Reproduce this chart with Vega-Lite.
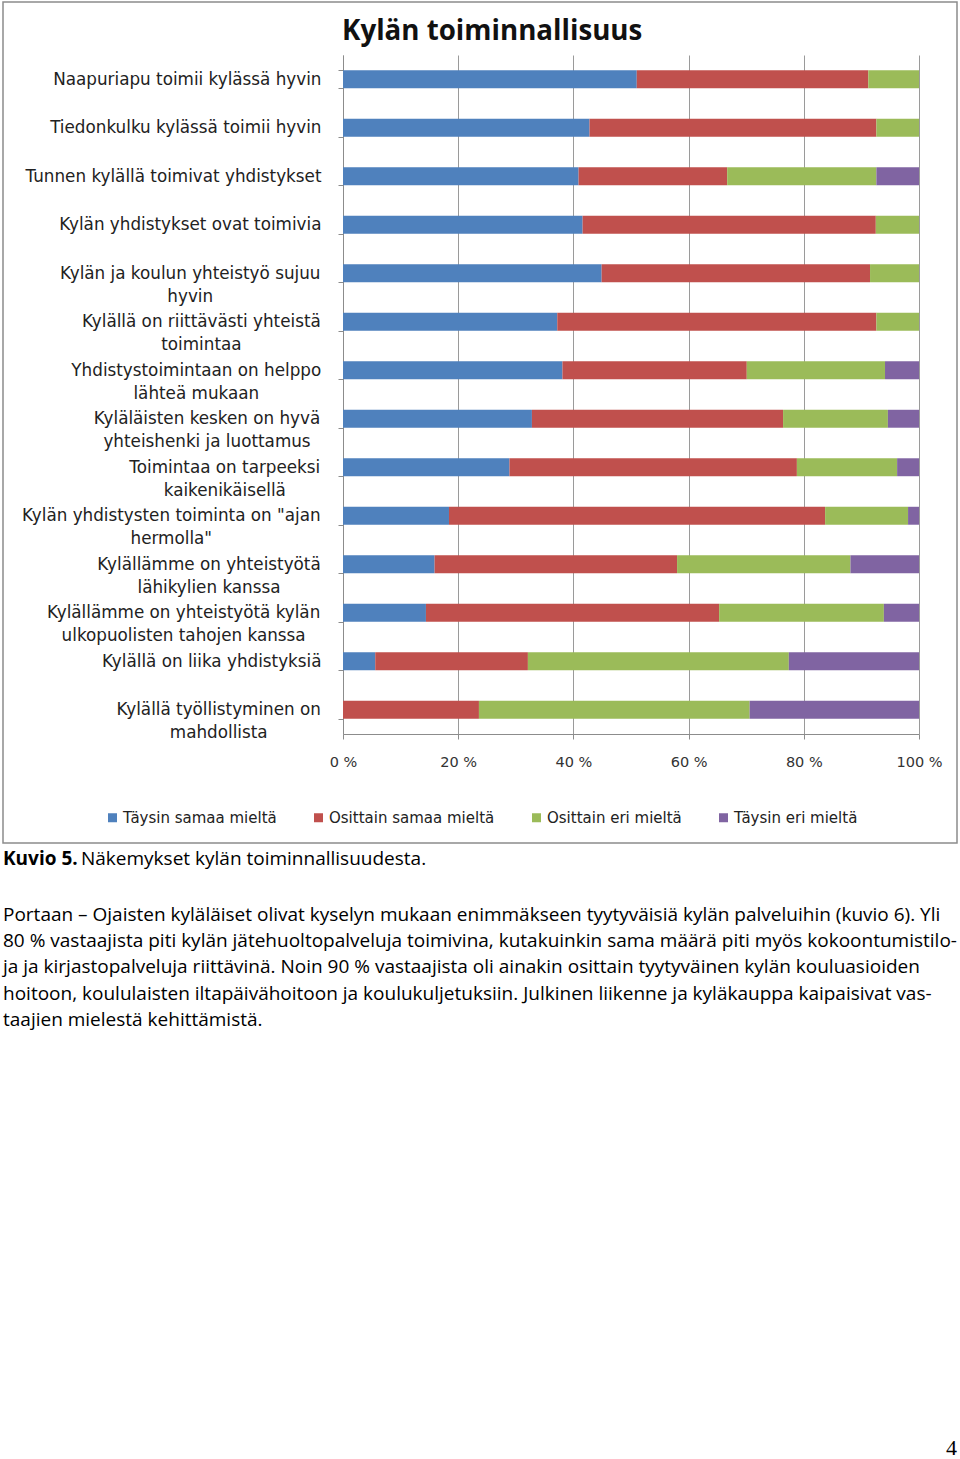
{
  "$schema": "https://vega.github.io/schema/vega-lite/v6.json",
  "width": 576,
  "height": 679,
  "autosize": {"type": "none"},
  "padding": {"left": 343, "top": 55, "right": 41, "bottom": 725},
  "background": "white",
  "config": {"view": {"stroke": null}},
  "layer": [
    {
      "data": {"values": [{"frame": "chart"}]},
      "mark": {"type": "rect", "fill": null, "stroke": "#8c8c8c", "strokeWidth": 1.5},
      "encoding": {"x": {"value": -340}, "x2": {"value": 614}, "y": {"value": -53}, "y2": {"value": 788}}
    },
    {
      "data": {"values": [
        {"item": "Naapuriapu toimii kylässä hyvin", "response": "Täysin samaa mieltä", "k": 1, "pct": 51.0},
        {"item": "Naapuriapu toimii kylässä hyvin", "response": "Osittain samaa mieltä", "k": 2, "pct": 40.2},
        {"item": "Naapuriapu toimii kylässä hyvin", "response": "Osittain eri mieltä", "k": 3, "pct": 8.8},
        {"item": "Naapuriapu toimii kylässä hyvin", "response": "Täysin eri mieltä", "k": 4, "pct": 0},
        {"item": "Tiedonkulku kylässä toimii hyvin", "response": "Täysin samaa mieltä", "k": 1, "pct": 42.8},
        {"item": "Tiedonkulku kylässä toimii hyvin", "response": "Osittain samaa mieltä", "k": 2, "pct": 49.8},
        {"item": "Tiedonkulku kylässä toimii hyvin", "response": "Osittain eri mieltä", "k": 3, "pct": 7.4},
        {"item": "Tiedonkulku kylässä toimii hyvin", "response": "Täysin eri mieltä", "k": 4, "pct": 0},
        {"item": "Tunnen kylällä toimivat yhdistykset", "response": "Täysin samaa mieltä", "k": 1, "pct": 40.9},
        {"item": "Tunnen kylällä toimivat yhdistykset", "response": "Osittain samaa mieltä", "k": 2, "pct": 25.8},
        {"item": "Tunnen kylällä toimivat yhdistykset", "response": "Osittain eri mieltä", "k": 3, "pct": 25.9},
        {"item": "Tunnen kylällä toimivat yhdistykset", "response": "Täysin eri mieltä", "k": 4, "pct": 7.4},
        {"item": "Kylän yhdistykset ovat toimivia", "response": "Täysin samaa mieltä", "k": 1, "pct": 41.6},
        {"item": "Kylän yhdistykset ovat toimivia", "response": "Osittain samaa mieltä", "k": 2, "pct": 50.9},
        {"item": "Kylän yhdistykset ovat toimivia", "response": "Osittain eri mieltä", "k": 3, "pct": 7.5},
        {"item": "Kylän yhdistykset ovat toimivia", "response": "Täysin eri mieltä", "k": 4, "pct": 0},
        {"item": "Kylän ja koulun yhteistyö sujuu|hyvin", "response": "Täysin samaa mieltä", "k": 1, "pct": 44.9},
        {"item": "Kylän ja koulun yhteistyö sujuu|hyvin", "response": "Osittain samaa mieltä", "k": 2, "pct": 46.6},
        {"item": "Kylän ja koulun yhteistyö sujuu|hyvin", "response": "Osittain eri mieltä", "k": 3, "pct": 8.5},
        {"item": "Kylän ja koulun yhteistyö sujuu|hyvin", "response": "Täysin eri mieltä", "k": 4, "pct": 0},
        {"item": "Kylällä on riittävästi yhteistä|toimintaa", "response": "Täysin samaa mieltä", "k": 1, "pct": 37.2},
        {"item": "Kylällä on riittävästi yhteistä|toimintaa", "response": "Osittain samaa mieltä", "k": 2, "pct": 55.4},
        {"item": "Kylällä on riittävästi yhteistä|toimintaa", "response": "Osittain eri mieltä", "k": 3, "pct": 7.4},
        {"item": "Kylällä on riittävästi yhteistä|toimintaa", "response": "Täysin eri mieltä", "k": 4, "pct": 0},
        {"item": "Yhdistystoimintaan on helppo|lähteä mukaan", "response": "Täysin samaa mieltä", "k": 1, "pct": 38.1},
        {"item": "Yhdistystoimintaan on helppo|lähteä mukaan", "response": "Osittain samaa mieltä", "k": 2, "pct": 32.0},
        {"item": "Yhdistystoimintaan on helppo|lähteä mukaan", "response": "Osittain eri mieltä", "k": 3, "pct": 24.0},
        {"item": "Yhdistystoimintaan on helppo|lähteä mukaan", "response": "Täysin eri mieltä", "k": 4, "pct": 5.9},
        {"item": "Kyläläisten kesken on hyvä|yhteishenki ja luottamus", "response": "Täysin samaa mieltä", "k": 1, "pct": 32.8},
        {"item": "Kyläläisten kesken on hyvä|yhteishenki ja luottamus", "response": "Osittain samaa mieltä", "k": 2, "pct": 43.6},
        {"item": "Kyläläisten kesken on hyvä|yhteishenki ja luottamus", "response": "Osittain eri mieltä", "k": 3, "pct": 18.2},
        {"item": "Kyläläisten kesken on hyvä|yhteishenki ja luottamus", "response": "Täysin eri mieltä", "k": 4, "pct": 5.4},
        {"item": "Toimintaa on tarpeeksi|kaikenikäisellä", "response": "Täysin samaa mieltä", "k": 1, "pct": 28.9},
        {"item": "Toimintaa on tarpeeksi|kaikenikäisellä", "response": "Osittain samaa mieltä", "k": 2, "pct": 49.9},
        {"item": "Toimintaa on tarpeeksi|kaikenikäisellä", "response": "Osittain eri mieltä", "k": 3, "pct": 17.4},
        {"item": "Toimintaa on tarpeeksi|kaikenikäisellä", "response": "Täysin eri mieltä", "k": 4, "pct": 3.8},
        {"item": "Kylän yhdistysten toiminta on \"ajan|hermolla\"", "response": "Täysin samaa mieltä", "k": 1, "pct": 18.4},
        {"item": "Kylän yhdistysten toiminta on \"ajan|hermolla\"", "response": "Osittain samaa mieltä", "k": 2, "pct": 65.3},
        {"item": "Kylän yhdistysten toiminta on \"ajan|hermolla\"", "response": "Osittain eri mieltä", "k": 3, "pct": 14.4},
        {"item": "Kylän yhdistysten toiminta on \"ajan|hermolla\"", "response": "Täysin eri mieltä", "k": 4, "pct": 1.9},
        {"item": "Kylällämme on yhteistyötä|lähikylien kanssa", "response": "Täysin samaa mieltä", "k": 1, "pct": 15.9},
        {"item": "Kylällämme on yhteistyötä|lähikylien kanssa", "response": "Osittain samaa mieltä", "k": 2, "pct": 42.1},
        {"item": "Kylällämme on yhteistyötä|lähikylien kanssa", "response": "Osittain eri mieltä", "k": 3, "pct": 30.1},
        {"item": "Kylällämme on yhteistyötä|lähikylien kanssa", "response": "Täysin eri mieltä", "k": 4, "pct": 11.9},
        {"item": "Kylällämme on yhteistyötä kylän|ulkopuolisten tahojen kanssa", "response": "Täysin samaa mieltä", "k": 1, "pct": 14.4},
        {"item": "Kylällämme on yhteistyötä kylän|ulkopuolisten tahojen kanssa", "response": "Osittain samaa mieltä", "k": 2, "pct": 50.9},
        {"item": "Kylällämme on yhteistyötä kylän|ulkopuolisten tahojen kanssa", "response": "Osittain eri mieltä", "k": 3, "pct": 28.6},
        {"item": "Kylällämme on yhteistyötä kylän|ulkopuolisten tahojen kanssa", "response": "Täysin eri mieltä", "k": 4, "pct": 6.1},
        {"item": "Kylällä on liika yhdistyksiä", "response": "Täysin samaa mieltä", "k": 1, "pct": 5.6},
        {"item": "Kylällä on liika yhdistyksiä", "response": "Osittain samaa mieltä", "k": 2, "pct": 26.5},
        {"item": "Kylällä on liika yhdistyksiä", "response": "Osittain eri mieltä", "k": 3, "pct": 45.3},
        {"item": "Kylällä on liika yhdistyksiä", "response": "Täysin eri mieltä", "k": 4, "pct": 22.6},
        {"item": "Kylällä työllistyminen on|mahdollista", "response": "Täysin samaa mieltä", "k": 1, "pct": 0},
        {"item": "Kylällä työllistyminen on|mahdollista", "response": "Osittain samaa mieltä", "k": 2, "pct": 23.6},
        {"item": "Kylällä työllistyminen on|mahdollista", "response": "Osittain eri mieltä", "k": 3, "pct": 47.0},
        {"item": "Kylällä työllistyminen on|mahdollista", "response": "Täysin eri mieltä", "k": 4, "pct": 29.4}
      ]},
      "mark": {"type": "bar"},
      "encoding": {
        "y": {
          "field": "item", "type": "nominal", "sort": null,
          "scale": {"paddingInner": 0.63, "paddingOuter": 0.315},
          "axis": {
            "title": null,
            "tickBand": "extent",
            "tickSize": 5, "tickColor": "#8c8c8c",
            "domainColor": "#8c8c8c",
            "labelFont": "DejaVu Sans", "labelFontSize": 16.8, "labelColor": "#222222",
            "labelLineHeight": 23, "labelLimit": 500,
            "labelExpr": "isString(datum.value) ? split(datum.value, '|') : ''",
            "labelAlign": {"condition": {"test": "isString(datum.value) && indexof(datum.value, '|') >= 0", "value": "center"}, "value": "right"},
            "labelPadding": {"expr": "17 + (isString(datum.value) ? (({'Kylän ja koulun yhteistyö sujuu': 131.3, 'Kylällä on riittävästi yhteistä': 120.1, 'Yhdistystoimintaan on helppo': 125.2, 'Kyläläisten kesken on hyvä': 114.5, 'Toimintaa on tarpeeksi': 96.7, 'Kylän yhdistysten toiminta on \"ajan': 150.2, 'Kylällämme on yhteistyötä': 112.5, 'Kylällämme on yhteistyötä kylän': 137.9, 'Kylällä työllistyminen on': 102.8})[split(datum.value, '|')[0]] || 0) : 0)"}
          }
        },
        "x": {
          "field": "pct", "type": "quantitative", "stack": "normalize",
          "scale": {"domain": [0, 1]},
          "axis": {
            "title": null,
            "values": [0, 0.2, 0.4, 0.6, 0.8, 1],
            "labelExpr": "format(datum.value * 100, 'd') + ' %'",
            "labelFlush": false, "labelOverlap": false,
            "grid": true, "gridColor": "#9a9a9a", "gridWidth": 1,
            "domainColor": "#8c8c8c", "tickColor": "#8c8c8c", "tickSize": 5,
            "labelFont": "DejaVu Sans", "labelFontSize": 14.5, "labelColor": "#333333",
            "labelPadding": 16
          }
        },
        "color": {
          "field": "response", "type": "nominal",
          "scale": {
            "domain": ["Täysin samaa mieltä", "Osittain samaa mieltä", "Osittain eri mieltä", "Täysin eri mieltä"],
            "range": ["#4F81BD", "#C0504D", "#9BBB59", "#8064A2"]
          },
          "legend": {
            "title": null, "orient": "none", "legendX": -238, "legendY": 755,
            "direction": "horizontal", "padding": 0,
            "symbolType": "square", "symbolSize": 81, "symbolStrokeWidth": 0, "symbolOpacity": 1,
            "labelFont": "DejaVu Sans", "labelFontSize": 15, "labelColor": "#222222",
            "labelOffset": 3, "columnPadding": 34, "labelLimit": 400
          }
        },
        "order": {"field": "k", "type": "quantitative"}
      }
    },
    {
      "data": {"values": [{"t": "Kylän toiminnallisuus"}]},
      "mark": {"type": "text", "align": "left", "baseline": "alphabetic", "font": "Open Sans", "fontWeight": "bold", "fontSize": 27.7, "color": "#111111"},
      "encoding": {"x": {"value": -1}, "y": {"value": -15.5}, "text": {"field": "t"}}
    },
    {
      "data": {"values": [{"t": "Kuvio 5."}]},
      "mark": {"type": "text", "align": "left", "baseline": "alphabetic", "font": "Open Sans", "fontWeight": "bold", "fontSize": 19, "color": "#000000"},
      "encoding": {"x": {"value": -340}, "y": {"value": 810}, "text": {"field": "t"}}
    },
    {
      "data": {"values": [{"t": "Näkemykset kylän toiminnallisuudesta."}]},
      "mark": {"type": "text", "align": "left", "baseline": "alphabetic", "font": "Open Sans", "fontSize": 19, "color": "#000000"},
      "encoding": {"x": {"value": -262}, "y": {"value": 810}, "text": {"field": "t"}}
    },
    {
      "data": {"values": [{"t": [
        "Portaan – Ojaisten kyläläiset olivat kyselyn mukaan enimmäkseen tyytyväisiä kylän palveluihin (kuvio 6). Yli",
        "80 % vastaajista piti kylän jätehuoltopalveluja toimivina, kutakuinkin sama määrä piti myös kokoontumistilo-",
        "ja ja kirjastopalveluja riittävinä. Noin 90 % vastaajista oli ainakin osittain tyytyväinen kylän kouluasioiden",
        "hoitoon, koululaisten iltapäivähoitoon ja koulukuljetuksiin. Julkinen liikenne ja kyläkauppa kaipaisivat vas-",
        "taajien mielestä kehittämistä."
      ]}]},
      "mark": {"type": "text", "align": "left", "baseline": "alphabetic", "font": "Open Sans", "fontSize": 19, "lineHeight": 26.2, "color": "#000000"},
      "encoding": {"x": {"value": -340}, "y": {"value": 866}, "text": {"field": "t"}}
    },
    {
      "data": {"values": [{"t": "4"}]},
      "mark": {"type": "text", "align": "right", "baseline": "alphabetic", "font": "Liberation Serif", "fontSize": 22, "color": "#000000"},
      "encoding": {"x": {"value": 614}, "y": {"value": 1400}, "text": {"field": "t"}}
    }
  ]
}
